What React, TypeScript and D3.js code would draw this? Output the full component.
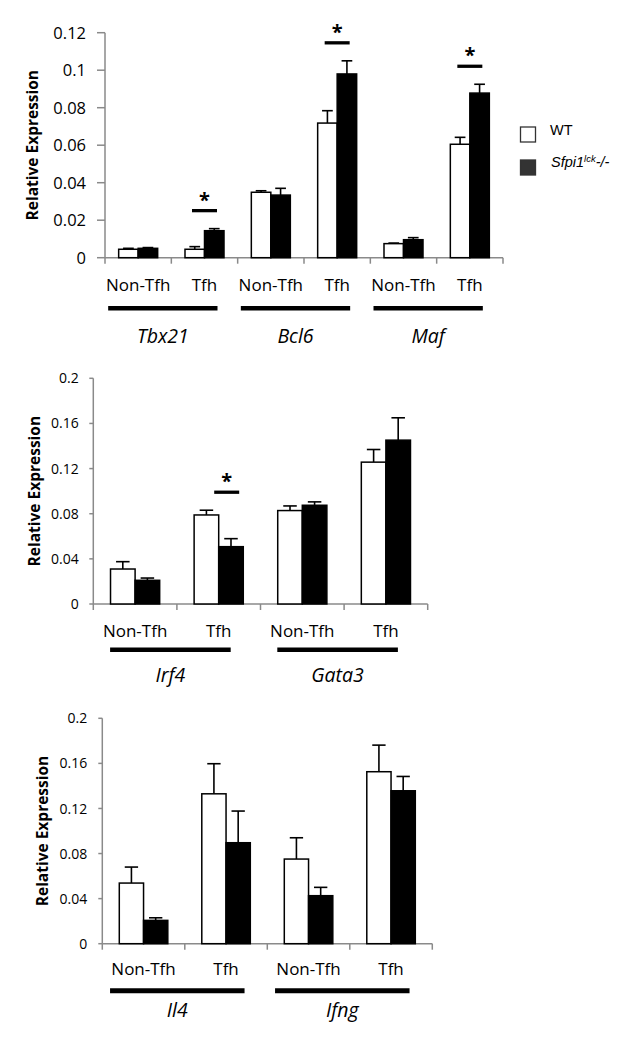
import React from "react";
import * as d3 from "d3";

// ---------- data ----------
const cellTypes = ["Non-Tfh", "Tfh"];
const seriesNames = ["WT", "Sfpi1"];

const genesA = ["Tbx21", "Bcl6", "Maf"];
const wtA = [0.0045, 0.0045, 0.0349, 0.0718, 0.0075, 0.0605];
const wtErrA = [0.0005, 0.0014, 0.0008, 0.0066, 0.0003, 0.0037];
const koA = [0.005, 0.0144, 0.0334, 0.098, 0.0096, 0.0878];
const koErrA = [0.0004, 0.0011, 0.0036, 0.007, 0.0011, 0.0047];
const sigA = [false, true, false, true, false, true];
const ticksA = [0, 0.02, 0.04, 0.06, 0.08, 0.1, 0.12];

const genesB = ["Irf4", "Gata3"];
const wtB = [0.031, 0.0789, 0.0828, 0.1257];
const wtErrB = [0.0065, 0.0042, 0.0041, 0.0112];
const koB = [0.021, 0.0508, 0.0875, 0.1452];
const koErrB = [0.002, 0.0071, 0.003, 0.0198];
const sigB = [false, true, false, false];
const ticksB = [0, 0.04, 0.08, 0.12, 0.16, 0.2];

const genesC = ["Il4", "Ifng"];
const wtC = [0.0538, 0.133, 0.0751, 0.1526];
const wtErrC = [0.0142, 0.0267, 0.0189, 0.0236];
const koC = [0.0207, 0.0896, 0.0426, 0.1357];
const koErrC = [0.0023, 0.0281, 0.0074, 0.0127];
const sigC = [false, false, false, false];
const ticksC = [0, 0.04, 0.08, 0.12, 0.16, 0.2];

// ---------- layout ----------
const FONT = "'Open Sans', sans-serif";
const AXIS = "#8a8a8a";

type Cfg = {
  genes: string[];
  wt: number[];
  wtErr: number[];
  ko: number[];
  koErr: number[];
  sig: boolean[];
  ticks: number[];
  x0: number;
  x1: number;
  yTop: number;
  yBottom: number;
  tickFont: number;
  tickLen: number;
  labelGap: number;
  titleX: number;
  catDy: number;
  lineDy: number;
  lineW: number;
  geneDy: number;
  padL: number;
  padR: number;
  sigShift: number;
};

const fmt = (v: number) => String(parseFloat(v.toFixed(3)));

function Panel({ c }: { c: Cfg }) {
  const cats = c.genes.flatMap((g) => cellTypes.map((t) => g + "|" + t));
  const x = d3.scaleBand<string>().domain(cats).range([c.x0, c.x1]);
  const yMax = c.ticks[c.ticks.length - 1];
  const y = d3.scaleLinear().domain([0, yMax]).range([c.yBottom, c.yTop]);
  const bw = x.bandwidth() * 0.294;
  const capW = bw * 0.55;
  const cx = (k: string) => (x(k) as number) + x.bandwidth() / 2;
  const bounds = d3.range(cats.length + 1).map((i) => c.x0 + i * x.bandwidth());
  const midY = (c.yTop + c.yBottom) / 2;

  return (
    <g>
      {/* y axis */}
      <line x1={c.x0} x2={c.x0} y1={c.yTop} y2={c.yBottom} stroke={AXIS} strokeWidth={1.5} />
      {c.ticks.map((t) => (
        <g key={"t" + t}>
          <line x1={c.x0 - c.tickLen} x2={c.x0} y1={y(t)} y2={y(t)} stroke={AXIS} strokeWidth={1.5} />
          <text
            x={c.x0 - c.labelGap}
            y={y(t)}
            dy="0.36em"
            textAnchor="end"
            fontFamily={FONT}
            fontSize={c.tickFont}
            fill="#000"
          >
            {fmt(t)}
          </text>
        </g>
      ))}
      <text
        transform={`translate(${c.titleX},${midY}) rotate(-90)`}
        textAnchor="middle"
        dy="0.35em"
        fontFamily={FONT}
        fontWeight="bold"
        fontSize={15.5}
        fill="#000"
      >
        Relative Expression
      </text>
      {/* x axis */}
      <line x1={c.x0} x2={c.x1} y1={c.yBottom} y2={c.yBottom} stroke={AXIS} strokeWidth={1.5} />
      {bounds.map((b, i) => (
        <line key={"b" + i} x1={b} x2={b} y1={c.yBottom} y2={c.yBottom + 6} stroke={AXIS} strokeWidth={1.5} />
      ))}
      {/* bars */}
      {cats.map((k, i) => {
        const m = cx(k);
        const wTop = y(c.wt[i]);
        const kTop = y(c.ko[i]);
        const wE = y(c.wt[i] + c.wtErr[i]);
        const kE = y(c.ko[i] + c.koErr[i]);
        const sigY = Math.min(wE, kE) - 18;
        return (
          <g key={k}>
            <line x1={m - bw / 2} x2={m - bw / 2} y1={wTop} y2={wE} stroke="#000" strokeWidth={1.6} />
            <line x1={m - bw / 2 - capW / 2} x2={m - bw / 2 + capW / 2} y1={wE} y2={wE} stroke="#000" strokeWidth={1.6} />
            <line x1={m + bw / 2} x2={m + bw / 2} y1={kTop} y2={kE} stroke="#000" strokeWidth={1.6} />
            <line x1={m + bw / 2 - capW / 2} x2={m + bw / 2 + capW / 2} y1={kE} y2={kE} stroke="#000" strokeWidth={1.6} />
            <rect x={m - bw} y={wTop} width={bw} height={c.yBottom - wTop} fill="#fff" stroke="#000" strokeWidth={1.5} />
            <rect x={m} y={kTop} width={bw} height={c.yBottom - kTop} fill="#000" stroke="#000" strokeWidth={1.5} />
            {c.sig[i] && (
              <g>
                <line
                  x1={m + c.sigShift - 12.5}
                  x2={m + c.sigShift + 12.5}
                  y1={sigY}
                  y2={sigY}
                  stroke="#000"
                  strokeWidth={3.3}
                />
                <text
                  x={m + c.sigShift}
                  y={sigY - 4}
                  textAnchor="middle"
                  fontFamily={FONT}
                  fontWeight="bold"
                  fontSize={20}
                  fill="#000"
                >
                  *
                </text>
              </g>
            )}
          </g>
        );
      })}
      {/* category labels */}
      {cats.map((k, i) => (
        <text
          key={"l" + k}
          x={cx(k)}
          y={c.yBottom + c.catDy}
          textAnchor="middle"
          fontFamily={FONT}
          fontSize={17}
          fill="#000"
        >
          {cellTypes[i % 2]}
        </text>
      ))}
      {/* gene underlines + labels */}
      {c.genes.map((g) => {
        const l = cx(g + "|" + cellTypes[0]) - c.padL;
        const r = cx(g + "|" + cellTypes[1]) + c.padR;
        return (
          <g key={"g" + g}>
            <line x1={l} x2={r} y1={c.yBottom + c.lineDy} y2={c.yBottom + c.lineDy} stroke="#000" strokeWidth={c.lineW} />
            <text
              x={(l + r) / 2}
              y={c.yBottom + c.geneDy}
              textAnchor="middle"
              fontFamily={FONT}
              fontStyle="italic"
              fontSize={19.5}
              fill="#000"
            >
              {g}
            </text>
          </g>
        );
      })}
    </g>
  );
}

const panels: Cfg[] = [
  {
    genes: genesA, wt: wtA, wtErr: wtErrA, ko: koA, koErr: koErrA, sig: sigA, ticks: ticksA,
    x0: 105, x1: 503, yTop: 32.7, yBottom: 257.7, tickFont: 16.5, tickLen: 8, labelGap: 19,
    titleX: 33, catDy: 33, lineDy: 50.6, lineW: 4.5, geneDy: 85.5, padL: 30, padR: 13, sigShift: 0,
  },
  {
    genes: genesB, wt: wtB, wtErr: wtErrB, ko: koB, koErr: koErrB, sig: sigB, ticks: ticksB,
    x0: 93.3, x1: 427.7, yTop: 378.3, yBottom: 604, tickFont: 14, tickLen: 4, labelGap: 14.5,
    titleX: 35, catDy: 32.5, lineDy: 45.7, lineW: 4.5, geneDy: 77.7, padL: 25, padR: 12, sigShift: 8,
  },
  {
    genes: genesC, wt: wtC, wtErr: wtErrC, ko: koC, koErr: koErrC, sig: sigC, ticks: ticksC,
    x0: 102.3, x1: 432.3, yTop: 718.3, yBottom: 943.7, tickFont: 14, tickLen: 4, labelGap: 15,
    titleX: 43, catDy: 31.3, lineDy: 47, lineW: 5, geneDy: 73, padL: 33.5, padR: 18.5, sigShift: 0,
  },
];

function Legend() {
  const colors = ["#fff", "#333"];
  const ys = [127, 160];
  return (
    <g>
      {seriesNames.map((s, i) => (
        <g key={s}>
          <rect x={520.5} y={ys[i]} width={15} height={15} fill={colors[i]} stroke="#333" strokeWidth={1.3} />
          {i === 0 ? (
            <text x={550} y={ys[i] + 8} fontFamily="'Liberation Sans', Arial, sans-serif" fontSize={14.5} fill="#000">
              {s}
            </text>
          ) : (
            <text x={551} y={ys[i] + 7} fontFamily="'Liberation Sans', Arial, sans-serif" fontStyle="italic" fontSize={14.5} fill="#000">
              {s}
              <tspan fontSize={9.5} dy={-5}>lck</tspan>
              <tspan dy={5}>-/-</tspan>
            </text>
          )}
        </g>
      ))}
    </g>
  );
}

export default function App() {
  return (
    <svg
      width={631}
      height={1048}
      viewBox="0 0 631 1048"
      style={{ position: "absolute", left: 0, top: 0, background: "#fff" }}
    >
      <rect x={0} y={0} width={631} height={1048} fill="#fff" />
      {panels.map((p, i) => (
        <Panel key={i} c={p} />
      ))}
      <Legend />
    </svg>
  );
}
